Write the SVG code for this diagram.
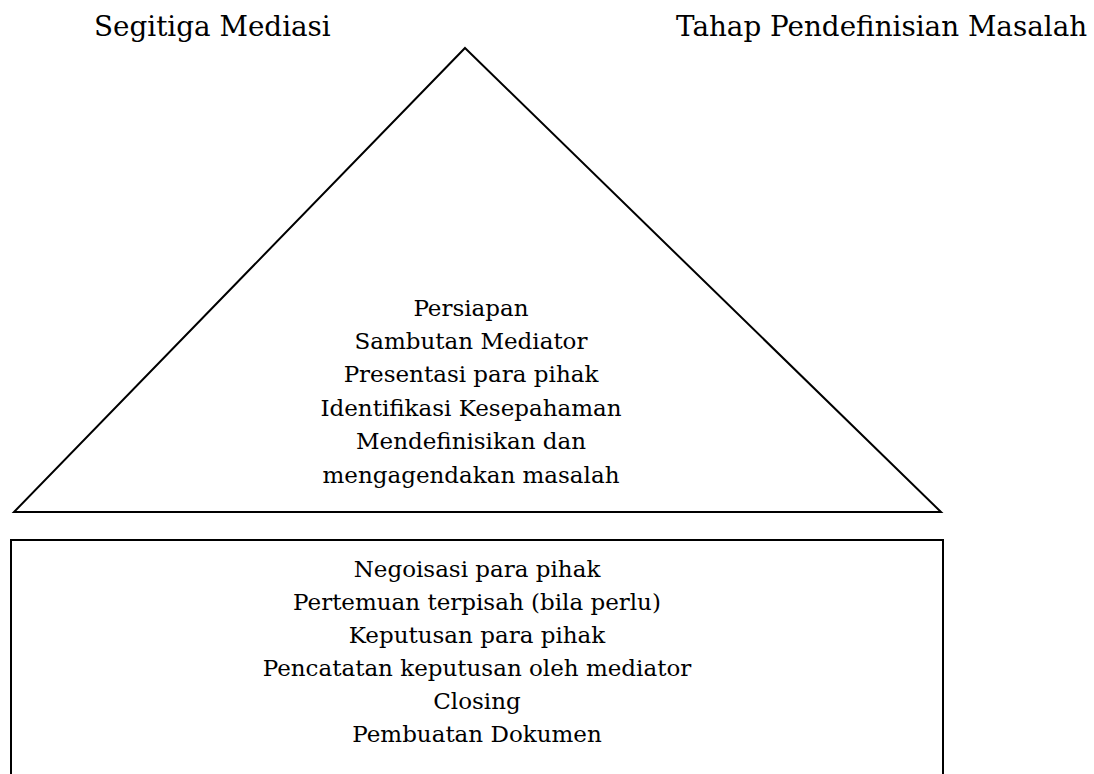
<svg xmlns="http://www.w3.org/2000/svg" width="1094" height="774" viewBox="0 0 1094 774">
<style>
.t{font-family:"DejaVu Serif","Liberation Serif",serif;font-size:23px;fill:#000}
.h{font-size:27.8px}
.c{text-anchor:middle}
.s{fill:none;stroke:#000;stroke-width:2}
</style>
<rect width="1094" height="774" fill="#fff"/>
<g id="title-left"><text class="t h" x="94" y="36">Segitiga Mediasi</text></g>
<g id="title-right"><text class="t h" x="676" y="36">Tahap Pendefinisian Masalah</text></g>
<g id="triangle">
<polygon class="s" points="465,48 941,512 14,512"/>
<text class="t c" x="471" y="316">Persiapan</text>
<text class="t c" x="471" y="349">Sambutan Mediator</text>
<text class="t c" x="471" y="382">Presentasi para pihak</text>
<text class="t c" x="471" y="416">Identifikasi Kesepahaman</text>
<text class="t c" x="471" y="449">Mendefinisikan dan</text>
<text class="t c" x="471" y="483">mengagendakan masalah</text>
</g>
<g id="box">
<rect class="s" x="11" y="540" width="932" height="260"/>
<text class="t c" x="477" y="577">Negoisasi para pihak</text>
<text class="t c" x="477" y="610">Pertemuan terpisah (bila perlu)</text>
<text class="t c" x="477" y="643">Keputusan para pihak</text>
<text class="t c" x="477" y="676">Pencatatan keputusan oleh mediator</text>
<text class="t c" x="477" y="709">Closing</text>
<text class="t c" x="477" y="742">Pembuatan Dokumen</text>
</g>
<g id="connectors"></g>
</svg>
